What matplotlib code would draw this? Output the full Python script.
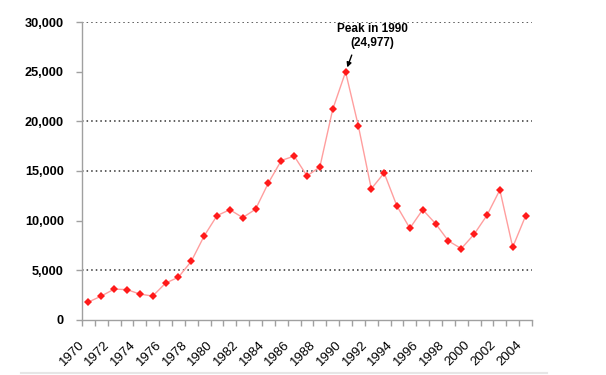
import matplotlib
matplotlib.use("Agg")
import matplotlib.pyplot as plt
import matplotlib.transforms as mtransforms
from matplotlib.lines import Line2D
from matplotlib.ticker import FuncFormatter

plt.rcParams['font.family'] = ['Liberation Sans', 'DejaVu Sans']

years = list(range(1970, 2005))
values = [1800, 2400, 3100, 3050, 2600, 2400, 3700, 4300, 5900, 8450,
          10500, 11100, 10300, 11150, 13800, 16050, 16500, 14500, 15400, 21200,
          24977, 19500, 13200, 14800, 11450, 9230, 11100, 9690, 7950, 7180,
          8630, 10540, 13090, 7320, 10470]
label_years = [y for y in years if y % 2 == 0]
yticks = [0, 5000, 10000, 15000, 20000, 25000, 30000]
grid_levels = [5000, 15000, 20000, 30000]
peak_year = 1990
peak_value = 24977

fig = plt.figure(figsize=(6.06, 3.75), dpi=100)
ax = fig.add_axes([82/606, 1 - 319.9/375, 450/606, (319.9 - 22)/375])

xs = list(range(len(years)))
ax.plot(xs, values, color='#FF9E9E', linewidth=1.0, zorder=3)
ax.plot(xs, values, linestyle='none', marker='D', markersize=3.7,
        color='#FF1A1A', markeredgewidth=0, zorder=4)

ax.set_xlim(-0.5, len(years) - 0.5)
ax.set_ylim(0, 30000)

for g in grid_levels:
    ax.axhline(g, color='#333333', linestyle=(0, (1, 2)), linewidth=1.1, zorder=1)

for s in ['top', 'right']:
    ax.spines[s].set_visible(False)
for s in ['left', 'bottom']:
    ax.spines[s].set_color('#A0A0A0')
    ax.spines[s].set_linewidth(1.0)

ax.set_yticks(yticks)
ax.yaxis.set_major_formatter(FuncFormatter(lambda v, p: f"{int(v):,}"))
ax.tick_params(axis='y', length=4, width=1, color='#A0A0A0', pad=9,
               labelsize=9.2)
for lab in ax.get_yticklabels():
    lab.set_fontweight('bold')

# category boundary ticks (minor) and labels at centers (major)
ax.set_xticks([i - 0.5 for i in range(len(years) + 1)], minor=True)
ax.tick_params(axis='x', which='minor', length=4, width=1, color='#A0A0A0')
ax.set_xticks([years.index(y) for y in label_years])
ax.set_xticklabels([str(y) for y in label_years], rotation=45,
                   ha='right', va='center', rotation_mode='anchor',
                   fontsize=9.5, fontweight='medium')
ax.tick_params(axis='x', which='major', length=0, pad=0)
offset = mtransforms.ScaledTranslation(-6/100, -23/100, fig.dpi_scale_trans)
for lab in ax.get_xticklabels():
    lab.set_transform(lab.get_transform() + offset)

pi = years.index(peak_year)
ax.annotate('', xy=(pi + 0.13, 25430), xytext=(pi + 0.48, 26670),
            arrowprops=dict(arrowstyle='-|>', color='black', lw=1.0,
                            mutation_scale=7, shrinkA=0, shrinkB=0),
            zorder=5)
ax.text(pi + 2.06, 28600, f"Peak in {peak_year}\n({peak_value:,})",
        ha='center', va='center', multialignment='center',
        fontsize=8.5, fontweight='bold', linespacing=1.15, zorder=5)

fig.add_artist(Line2D([21/606, 547/606], [1 - 373/375, 1 - 373/375],
                      transform=fig.transFigure, color='#E6E6E6', linewidth=1.5))

fig.savefig('out.png', dpi=100)
